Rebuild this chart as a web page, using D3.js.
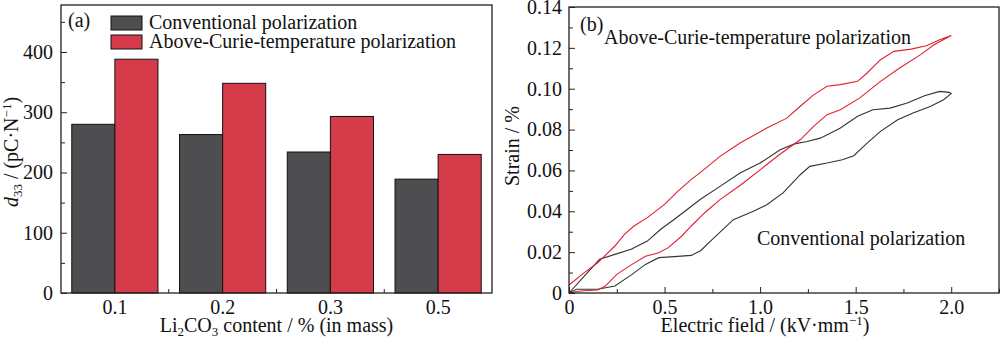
<!DOCTYPE html>
<html>
<head>
<meta charset="utf-8" />
<title>d33 and strain</title>
<script src="https://cdn.jsdelivr.net/npm/d3@7/dist/d3.min.js"></script>
<style>
  body { margin: 0; background: #fff; }
  svg, svg text { font-family: "Liberation Serif", "Times New Roman", serif; }
  text { fill: #111; }
</style>
</head>
<body>
<script>
    // panel (a): piezo coefficient per Li2CO3 content
    var groups = ["0.1", "0.2", "0.3", "0.5"];
    var seriesNames = ["Conventional polarization", "Above-Curie-temperature polarization"];
    var conventional = [280, 263, 234, 189];
    var aboveCurie = [388, 348, 293, 230];
    var coefTicks = [0, 100, 200, 300, 400];

    // panel (b): strain loops, rising branch then falling branch
    var redUpField = [0, 0.06, 0.15, 0.19, 0.25, 0.33, 0.40, 0.47, 0.52, 0.59, 0.64, 0.71, 0.79, 0.90, 1.0, 1.1, 1.21, 1.28, 1.35, 1.42, 1.52, 1.63, 1.73, 1.84, 1.91, 2.0];
    var redUpStrain = [0, 0.001, 0.0015, 0.0034, 0.0091, 0.014, 0.018, 0.0197, 0.0222, 0.0279, 0.0328, 0.0393, 0.0457, 0.053, 0.0603, 0.0677, 0.075, 0.0816, 0.0873, 0.0897, 0.0954, 0.1036, 0.1101, 0.1167, 0.1215, 0.1261];
    var redDownField = [2.0, 1.94, 1.87, 1.79, 1.70, 1.63, 1.56, 1.51, 1.42, 1.35, 1.28, 1.21, 1.14, 1.035, 0.895, 0.79, 0.69, 0.64, 0.57, 0.5, 0.41, 0.34, 0.29, 0.24, 0.15, 0.08, 0];
    var redDownStrain = [0.1261, 0.124, 0.121, 0.1194, 0.1183, 0.1142, 0.1077, 0.1036, 0.1020, 0.1012, 0.097, 0.0914, 0.0856, 0.0808, 0.0734, 0.0669, 0.0592, 0.0556, 0.0499, 0.0434, 0.0369, 0.0328, 0.0287, 0.023, 0.0148, 0.010, 0.0039];
    var blackUpField = [0, 0.04, 0.15, 0.24, 0.33, 0.40, 0.47, 0.55, 0.64, 0.69, 0.75, 0.86, 0.965, 1.035, 1.12, 1.21, 1.26, 1.35, 1.43, 1.49, 1.56, 1.63, 1.72, 1.80, 1.89, 1.96, 2.0];
    var blackUpStrain = [0, 0.0018, 0.0018, 0.0034, 0.0091, 0.014, 0.0173, 0.0178, 0.0184, 0.0208, 0.0262, 0.0359, 0.040, 0.0432, 0.049, 0.0579, 0.062, 0.0636, 0.0652, 0.0672, 0.0734, 0.0791, 0.0848, 0.0881, 0.0913, 0.0946, 0.0976];
    var blackDownField = [2.0, 1.99, 1.94, 1.86, 1.77, 1.68, 1.59, 1.51, 1.42, 1.385, 1.315, 1.245, 1.18, 1.105, 1.0, 0.895, 0.79, 0.69, 0.62, 0.55, 0.48, 0.41, 0.325, 0.24, 0.16, 0.08, 0];
    var blackDownStrain = [0.0976, 0.0982, 0.0987, 0.0966, 0.093, 0.0905, 0.0897, 0.0865, 0.0808, 0.0791, 0.0758, 0.0742, 0.073, 0.0701, 0.0636, 0.0587, 0.0522, 0.046, 0.041, 0.036, 0.0312, 0.0254, 0.0214, 0.0189, 0.0165, 0.0083, 0];
    var fieldTicks = [0, 0.5, 1.0, 1.5, 2.0];
    var strainTicks = [0, 0.02, 0.04, 0.06, 0.08, 0.10, 0.12, 0.14];

    var width = 1000, height = 339;
    var fontSize = 20;
    var serif = "Liberation Serif";
    var colDark = "#4e4d4f", colRed = "#d63b4a";

    var svg = d3.select("body").append("svg")
        .attr("width", width)
        .attr("height", height);

    function styleAxis(g) {
        g.attr("font-family", serif).attr("font-size", fontSize);
        g.select(".domain").remove();
        g.selectAll(".tick line").attr("stroke", "#222");
        g.selectAll("text").attr("fill", "#111");
    }

    function isMajor(list, d) {
        return list.some(function (t) { return Math.abs(t - d) < 1e-9; });
    }

    // ---------- panel (a) ----------
    var a = { left: 61, right: 492, top: 5, bottom: 293 };

    var x0 = d3.scaleBand().domain(groups).range([a.left, a.right]).paddingInner(0.2).paddingOuter(0.1);
    var x1 = d3.scaleBand().domain([0, 1]).range([0, x0.bandwidth()]);
    var ya = d3.scaleLinear().domain([0, 478]).range([a.bottom, a.top]);

    var pa = svg.append("g");

    var rows = groups.map(function (g, i) { return { g: g, v: [conventional[i], aboveCurie[i]] }; });
    var gg = pa.selectAll(".grp").data(rows).enter().append("g")
        .attr("transform", function (d) { return "translate(" + x0(d.g) + ",0)"; });
    gg.selectAll("rect").data(function (d) { return d.v; }).enter().append("rect")
        .attr("x", function (d, i) { return x1(i); })
        .attr("y", function (d) { return ya(d); })
        .attr("width", x1.bandwidth())
        .attr("height", function (d) { return ya(0) - ya(d); })
        .attr("fill", function (d, i) { return i === 0 ? colDark : colRed; })
        .attr("stroke", "#111")
        .attr("stroke-width", 1);

    // y axis, ticks pointing inwards
    var yAxisA = d3.axisLeft(ya).tickValues(d3.range(0, 451, 50)).tickSize(0).tickPadding(8)
        .tickFormat(function (d) { return isMajor(coefTicks, d) ? d : ""; });
    pa.append("g").attr("transform", "translate(" + a.left + ",0)").call(yAxisA)
        .call(styleAxis)
        .call(function (g) {
            g.selectAll(".tick line").attr("x2", function (d) { return isMajor(coefTicks, d) ? 6 : 4; });
        });

    // x axis: labels at group centres, small ticks between groups
    var xAxisA = d3.axisBottom(x0).tickSize(0).tickPadding(7);
    pa.append("g").attr("transform", "translate(0," + a.bottom + ")").call(xAxisA)
        .call(styleAxis);
    pa.selectAll(".sep").data(groups.slice(1)).enter().append("line")
        .attr("x1", function (d) { return x0(d) - x0.step() * x0.paddingInner() / 2; })
        .attr("x2", function (d) { return x0(d) - x0.step() * x0.paddingInner() / 2; })
        .attr("y1", a.bottom).attr("y2", a.bottom - 4)
        .attr("stroke", "#222");

    pa.append("rect")
        .attr("x", a.left).attr("y", a.top)
        .attr("width", a.right - a.left).attr("height", a.bottom - a.top)
        .attr("fill", "none").attr("stroke", "#222").attr("stroke-width", 1.3);

    // legend
    var legend = pa.selectAll(".legend").data(seriesNames).enter().append("g")
        .attr("transform", function (d, i) { return "translate(111," + (16 + i * 19) + ")"; });
    legend.append("rect")
        .attr("width", 31).attr("height", 14)
        .attr("fill", function (d, i) { return i === 0 ? colDark : colRed; })
        .attr("stroke", "#111");
    legend.append("text")
        .attr("x", 38).attr("y", 13)
        .attr("font-size", fontSize)
        .text(function (d) { return d; });

    pa.append("text").attr("x", 68).attr("y", 27).attr("font-size", fontSize).text("(a)");

    var yla = pa.append("text")
        .attr("transform", "translate(18," + ((a.top + a.bottom) / 2 + 3) + ") rotate(-90)")
        .attr("text-anchor", "middle").attr("font-size", fontSize);
    yla.append("tspan").attr("font-style", "italic").text("d");
    yla.append("tspan").attr("font-size", 13).attr("dy", 4).text("33");
    yla.append("tspan").attr("dy", -4).text(" / (pC·N");
    yla.append("tspan").attr("font-size", 13).attr("dy", -7).text("−1");
    yla.append("tspan").attr("dy", 7).text(")");

    var xla = pa.append("text")
        .attr("x", (a.left + a.right) / 2).attr("y", 332)
        .attr("text-anchor", "middle").attr("font-size", fontSize);
    xla.append("tspan").text("Li");
    xla.append("tspan").attr("font-size", 13).attr("dy", 4).text("2");
    xla.append("tspan").attr("dy", -4).text("CO");
    xla.append("tspan").attr("font-size", 13).attr("dy", 4).text("3");
    xla.append("tspan").attr("dy", -4).text(" content / % (in mass)");

    // ---------- panel (b) ----------
    var b = { left: 569, right: 999, top: 7, bottom: 293 };
    var xb = d3.scaleLinear().domain([0, 2.25]).range([b.left, b.right]);
    var yb = d3.scaleLinear().domain([0, 0.14]).range([b.bottom, b.top]);

    var pb = svg.append("g");

    var yAxisB = d3.axisLeft(yb).tickValues(d3.range(0, 0.1401, 0.01)).tickSize(0).tickPadding(7)
        .tickFormat(function (d) {
            if (!isMajor(strainTicks, d)) return "";
            return d === 0 ? "0" : d3.format(".2f")(d);
        });
    pb.append("g").attr("transform", "translate(" + b.left + ",0)").call(yAxisB)
        .call(styleAxis)
        .call(function (g) {
            g.selectAll(".tick line").attr("x2", function (d) { return isMajor(strainTicks, d) ? 6 : 4; });
        });

    var xAxisB = d3.axisBottom(xb).tickValues(d3.range(0, 2.26, 0.25)).tickSize(0).tickPadding(7)
        .tickFormat(function (d) {
            if (!isMajor(fieldTicks, d)) return "";
            return d === 0 ? "0" : d3.format(".1f")(d);
        });
    pb.append("g").attr("transform", "translate(0," + b.bottom + ")").call(xAxisB)
        .call(styleAxis)
        .call(function (g) {
            g.selectAll(".tick line").attr("y2", function (d) { return isMajor(fieldTicks, d) ? -6 : -4; });
        });

    function loop(f1, s1, f2, s2) {
        var pts = f1.map(function (f, i) { return [f, s1[i]]; });
        return pts.concat(f2.map(function (f, i) { return [f, s2[i]]; }));
    }
    var line = d3.line()
        .x(function (d) { return xb(d[0]); })
        .y(function (d) { return yb(d[1]); });

    pb.append("path")
        .datum(loop(blackUpField, blackUpStrain, blackDownField, blackDownStrain))
        .attr("d", line).attr("fill", "none").attr("stroke", "#333").attr("stroke-width", 1.1);
    pb.append("path")
        .datum(loop(redUpField, redUpStrain, redDownField, redDownStrain))
        .attr("d", line).attr("fill", "none").attr("stroke", "#e0202e").attr("stroke-width", 1.1);

    pb.append("rect")
        .attr("x", b.left).attr("y", b.top)
        .attr("width", b.right - b.left).attr("height", b.bottom - b.top)
        .attr("fill", "none").attr("stroke", "#222").attr("stroke-width", 1.3);

    pb.append("text").attr("x", 580).attr("y", 31).attr("font-size", fontSize).text("(b)");
    pb.append("text").attr("x", 604).attr("y", 44).attr("font-size", fontSize).text(seriesNames[1]);
    pb.append("text").attr("x", 757).attr("y", 245).attr("font-size", fontSize).text(seriesNames[0]);

    pb.append("text")
        .attr("transform", "translate(519,146) rotate(-90)")
        .attr("text-anchor", "middle").attr("font-size", fontSize)
        .text("Strain / %");

    var xlb = pb.append("text")
        .attr("x", 765).attr("y", 332)
        .attr("text-anchor", "middle").attr("font-size", fontSize);
    xlb.append("tspan").text("Electric field / (kV·mm");
    xlb.append("tspan").attr("font-size", 13).attr("dy", -7).text("−1");
    xlb.append("tspan").attr("dy", 7).text(")");
</script>
</body>
</html>
